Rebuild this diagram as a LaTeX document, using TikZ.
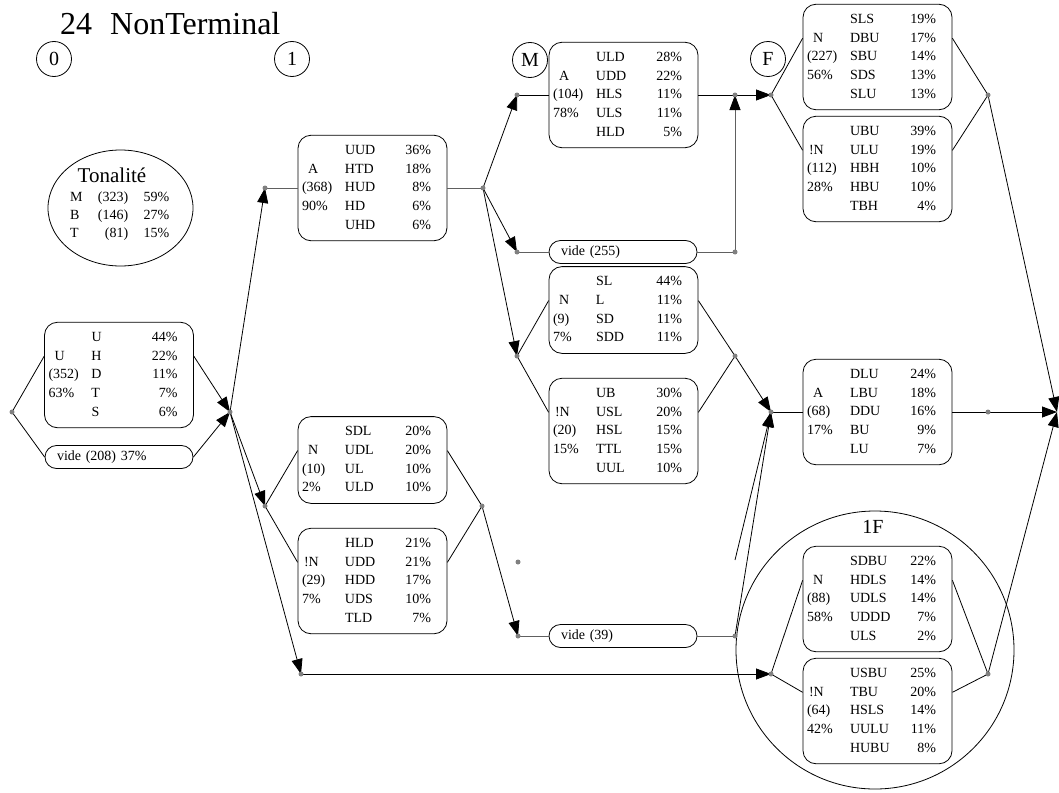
\documentclass[tikz,border=0pt]{standalone}
\usepackage{fontspec}
\setmainfont{Liberation Serif}
\usepackage{array}
\usetikzlibrary{arrows.meta,shapes.geometric}
\newcolumntype{R}{>{\raggedleft\arraybackslash}p{36pt}}
\newcommand\stat[1]{\begin{tabular}{@{\hspace{4pt}}p{43pt}@{}p{50pt}@{}R@{\hspace{16pt}}}#1\end{tabular}}
\newcommand\lab[1]{\hspace*{6pt}#1}
\newcommand\rowup{18.7pt}
\newcommand\halfup{9.35pt}
\tikzset{
  statbox/.style={draw, rounded corners=13pt, inner xsep=0pt, inner ysep=6pt, line width=0.8pt, font=\fontsize{14}{18.7}\selectfont},
  videbox/.style={draw, rounded corners=11.5pt, minimum width=148pt, minimum height=23pt, inner xsep=12pt, inner ysep=0pt, text width=124pt, align=left, line width=0.8pt, font=\fontsize{14}{16}\selectfont},
  colmark/.style={draw, circle, minimum size=35pt, inner sep=0pt, line width=0.8pt, font=\fontsize{20}{20}\selectfont},
  link/.style={line width=0.8pt},
  glink/.style={line width=0.8pt, gray!75!black},
  >={Triangle[length=15pt,width=11pt,color=black]}
}
\begin{document}
\begin{tikzpicture}[x=1pt, y=-1pt]
\useasboundingbox (0,0) rectangle (1059,792);

% titre et colonnes
\node[anchor=base west, inner sep=0pt, font=\fontsize{32}{32}\selectfont] (title) at (60,35) {24\hspace{18pt}NonTerminal};
\node[colmark] (c0) at (54,59) {0};
\node[colmark] (c1) at (292,59) {1};
\node[colmark] (cM) at (530,60) {M};
\node[colmark] (cF) at (768,59) {F};

% tonalite
\node[draw, ellipse, minimum width=145pt, minimum height=116pt, inner sep=0pt, line width=0.8pt] (tonal) at (120.5,208) {};
\node[font=\fontsize{21}{21}\selectfont] (tontitle) at (112,175) {Tonalité};
\node[anchor=west, inner sep=0pt, font=\fontsize{14}{18}\selectfont] (tonrows) at (70,216) {\begin{tabular}{@{}p{18pt}@{}>{\raggedleft\arraybackslash}p{40pt}@{}>{\raggedleft\arraybackslash}p{41pt}@{}}
M & (323) & 59\%\\ B & (146) & 27\%\\ T & (81) & 15\%
\end{tabular}};

% groupe 1F
\node[draw, circle, minimum size=278pt, inner sep=0pt, line width=0.8pt] (grp1F) at (875,650) {};
\node[font=\fontsize{20}{20}\selectfont] (lab1F) at (873,527) {1F};

% colonne 0
\node[statbox] (bU) at (119,375) {\stat{ & U & 44\%\\ \lab{U} & H & 22\%\\ (352) & D & 11\%\\ 63\% & T & 7\%\\ & S & 6\%}};
\node[videbox] (vU) at (119,457) {vide (208) 37\%};

% colonne 1
\node[statbox] (bA1) at (372.5,188) {\stat{ & UUD & 36\%\\ \lab{A} & HTD & 18\%\\ (368) & HUD & 8\%\\ 90\% & HD & 6\%\\ & UHD & 6\%}};
\node[statbox] (bN1) at (372.5,460) {\stat{ & SDL & 20\%\\ \lab{N} & UDL & 20\%\\ (10) & UL & 10\%\\ 2\% & ULD & 10\%}};
\node[statbox] (bNn1) at (372.5,581) {\stat{ & HLD & 21\%\\ \hspace*{2pt}!N & UDD & 21\%\\ (29) & HDD & 17\%\\ 7\% & UDS & 10\%\\ & TLD & 7\%}};

% colonne M
\node[statbox] (bAM) at (623.5,95) {\stat{ & ULD & 28\%\\ \lab{A} & UDD & 22\%\\ (104) & HLS & 11\%\\ 78\% & ULS & 11\%\\ & HLD & 5\%}};
\node[videbox] (vM) at (623,252) {vide (255)};
\node[statbox] (bNM) at (623.5,310) {\stat{ & SL & 44\%\\ \lab{N} & L & 11\%\\ (9) & SD & 11\%\\ 7\% & SDD & 11\%}};
\node[statbox] (bNnM) at (623.5,431) {\stat{ & UB & 30\%\\ \hspace*{2pt}!N & USL & 20\%\\ (20) & HSL & 15\%\\ 15\% & TTL & 15\%\\ & UUL & 10\%}};
\node[videbox] (vB) at (623,636) {vide (39)};

% colonne F
\node[statbox] (bNF) at (877.5,57) {\stat{ & SLS & 19\%\\ \lab{N} & DBU & 17\%\\ (227) & SBU & 14\%\\ 56\% & SDS & 13\%\\ & SLU & 13\%}};
\node[statbox] (bNnF) at (877.5,169) {\stat{ & UBU & 39\%\\ \hspace*{2pt}!N & ULU & 19\%\\ (112) & HBH & 10\%\\ 28\% & HBU & 10\%\\ & TBH & 4\%}};
\node[statbox] (bA2) at (877.5,412) {\stat{ & DLU & 24\%\\ \lab{A} & LBU & 18\%\\ (68) & DDU & 16\%\\ 17\% & BU & 9\%\\ & LU & 7\%}};
\node[statbox] (bN1F) at (877.5,599) {\stat{ & SDBU & 22\%\\ \lab{N} & HDLS & 14\%\\ (88) & UDLS & 14\%\\ 58\% & UDDD & 7\%\\ & ULS & 2\%}};
\node[statbox] (bNn1F) at (877.5,711) {\stat{ & USBU & 25\%\\ \hspace*{2pt}!N & TBU & 20\%\\ (64) & HSLS & 14\%\\ 42\% & UULU & 11\%\\ & HUBU & 8\%}};

% jonctions
\coordinate (j0) at (12,412);
\coordinate (j1) at (230,412);
\coordinate (jA1in) at (265,188);
\coordinate (jA1out) at (483,188);
\coordinate (jN1in) at (265,506);
\coordinate (jN1out) at (482,506);
\coordinate (jBot) at (301,674);
\coordinate (jAMin) at (517,95);
\coordinate (jAMout) at (735,95);
\coordinate (jVMin) at (517,252);
\coordinate (jVMout) at (735,252);
\coordinate (jNMin) at (517,356);
\coordinate (jNMout) at (735,356);
\coordinate (jVBin) at (518,636);
\coordinate (jVBout) at (735,636);
\coordinate (jlone) at (518,562);
\coordinate (stray) at (735,560);
\coordinate (jF) at (771,95);
\coordinate (jFout) at (988,95);
\coordinate (jA2in) at (771,412);
\coordinate (jA2out) at (988,412);
\coordinate (j1Fin) at (771,674);
\coordinate (j1Fout) at (988,674);
\coordinate (jEnd) at (1057,412);

% colonne 0
\draw[link] (j0) -- ([yshift=\rowup]bU.west);
\draw[link] (j0) -- (vU.west);
\draw[link,->] ([yshift=\rowup]bU.east) -- (j1);
\draw[link,->] (vU.east) -- (j1);
\draw[link,->] (j1) -- (jA1in);
\draw[link,->] (j1) -- (jN1in);
\draw[link,->] (j1) -- (jBot);

% colonne 1
\draw[glink] (jA1in) -- (bA1.west);
\draw[glink] (bA1.east) -- (jA1out);
\draw[link] (jN1in) -- ([yshift=\halfup]bN1.west);
\draw[link] (jN1in) -- ([yshift=\rowup]bNn1.west);
\draw[link] ([yshift=\halfup]bN1.east) -- (jN1out);
\draw[link] ([yshift=\rowup]bNn1.east) -- (jN1out);
\draw[link,->] (jA1out) -- (jAMin);
\draw[link,->] (jA1out) -- (jVMin);
\draw[link,->] (jA1out) -- (jNMin);
\draw[link,->] (jN1out) -- (jVBin);
\draw[link,->] (jBot) -- (j1Fin);

% colonne M
\draw[link] (jAMin) -- (bAM.west);
\draw[link] (bAM.east) -- (jAMout);
\draw[glink] (jVMin) -- (vM.west);
\draw[glink] (vM.east) -- (jVMout);
\draw[glink,->] (jVMout) -- (jAMout);
\draw[link,->] (jAMout) -- (jF);
\draw[link] (jNMin) -- ([yshift=\halfup]bNM.west);
\draw[link] (jNMin) -- ([yshift=\rowup]bNnM.west);
\draw[link] ([yshift=\halfup]bNM.east) -- (jNMout);
\draw[link] ([yshift=\rowup]bNnM.east) -- (jNMout);
\draw[link,->] (jNMout) -- (jA2in);
\draw[glink] (jVBin) -- (vB.west);
\draw[glink] (vB.east) -- (jVBout);
\draw[link,->] (jVBout) -- (jA2in);
\draw[link,->] (stray) -- (jA2in);

% colonne F
\draw[link] (jF) -- ([yshift=\rowup]bNF.west);
\draw[link] (jF) -- ([yshift=\rowup]bNnF.west);
\draw[link] ([yshift=\rowup]bNF.east) -- (jFout);
\draw[link] ([yshift=\rowup]bNnF.east) -- (jFout);
\draw[link,->] (jFout) -- (jEnd);
\draw[link] (jA2in) -- (bA2.west);
\draw[link] (bA2.east) -- (jA2out);
\draw[link,->] (jA2out) -- (jEnd);
\draw[link] (j1Fin) -- ([yshift=\rowup]bN1F.west);
\draw[link] (j1Fin) -- ([yshift=\rowup]bNn1F.west);
\draw[link] ([yshift=\rowup]bN1F.east) -- (j1Fout);
\draw[link] ([yshift=\rowup]bNn1F.east) -- (j1Fout);
\draw[link,->] (j1Fout) -- (jEnd);

% points gris
\foreach \j in {j0,j1,jA1in,jA1out,jN1in,jN1out,jBot,jAMin,jAMout,jVMin,jVMout,jNMin,jNMout,jVBin,jVBout,jlone,jF,jFout,jA2in,jA2out,j1Fin,j1Fout}
  \fill[gray] (\j) circle (2.5pt);
\end{tikzpicture}
\end{document}
